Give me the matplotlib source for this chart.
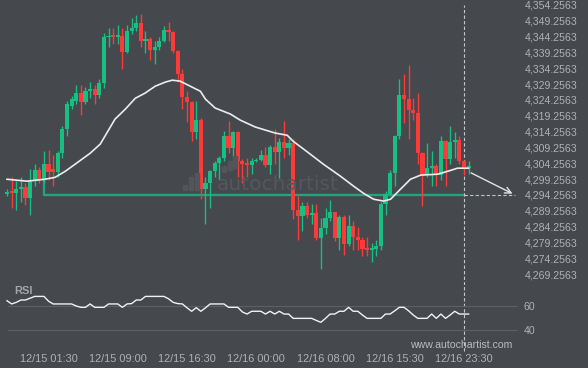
import matplotlib
matplotlib.use("Agg")
import matplotlib.pyplot as plt
from matplotlib.patches import Rectangle

# candles, 30 minute bars
opens = [4294.5, 4295.5, 4294.9, 4296.2, 4296.6, 4293.3, 4298.5, 4302.0, 4299.0, 4304.0,
         4302.5, 4301.5, 4307.5, 4315.0, 4322.5, 4324.0, 4326.5, 4323.5, 4327.0, 4327.8,
         4325.9, 4329.6, 4344.0, 4344.6, 4344.3, 4344.6, 4339.5, 4346.0, 4347.0, 4348.5,
         4343.0, 4343.5, 4340.0, 4341.0, 4343.0, 4346.5, 4345.8, 4339.7, 4332.5, 4325.1,
         4323.6, 4314.0, 4318.0, 4296.0, 4297.9, 4301.7, 4304.2, 4305.8, 4312.8, 4309.0,
         4314.0, 4304.9, 4304.2, 4303.6, 4304.9, 4305.3, 4306.9, 4303.6, 4309.5, 4307.7,
         4311.0, 4309.0, 4310.5, 4289.5, 4287.5, 4290.7, 4287.8, 4288.4, 4280.5, 4283.7,
         4287.0, 4288.9, 4280.5, 4287.3, 4278.6, 4284.3, 4280.9, 4279.9, 4277.3, 4276.9,
         4277.3, 4278.2, 4291.3, 4294.5, 4301.3, 4312.8, 4325.8, 4324.5, 4321.0, 4320.0,
         4307.4, 4300.7, 4302.6, 4303.5, 4300.7, 4311.2, 4305.5, 4311.0, 4311.5, 4305.0,
         4302.8]
highs = [4296.0, 4300.0, 4298.6, 4300.0, 4298.0, 4302.5, 4304.0, 4303.0, 4308.0, 4308.5,
         4307.0, 4308.0, 4316.0, 4324.0, 4325.5, 4329.0, 4329.0, 4328.5, 4330.0, 4329.0,
         4331.0, 4345.5, 4347.0, 4347.0, 4348.0, 4347.0, 4348.0, 4350.0, 4351.0, 4351.5,
         4346.0, 4344.0, 4343.0, 4344.0, 4347.5, 4349.0, 4346.0, 4340.0, 4334.0, 4327.0,
         4324.0, 4324.0, 4318.5, 4300.0, 4302.0, 4305.0, 4306.5, 4314.5, 4317.5, 4314.6,
         4314.5, 4305.5, 4306.0, 4306.0, 4306.0, 4308.5, 4309.5, 4310.0, 4315.0, 4312.3,
         4317.5, 4312.0, 4312.0, 4293.9, 4291.9, 4292.0, 4291.5, 4291.5, 4287.0, 4290.0,
         4292.5, 4289.0, 4288.0, 4288.0, 4288.0, 4286.0, 4284.0, 4281.0, 4281.0, 4279.0,
         4280.0, 4292.0, 4295.5, 4302.0, 4313.3, 4331.0, 4332.5, 4335.3, 4325.0, 4326.4,
         4307.8, 4310.8, 4308.0, 4304.0, 4313.0, 4311.5, 4316.0, 4314.0, 4313.0, 4305.2,
         4305.0]
lows = [4293.8, 4290.0, 4289.5, 4292.0, 4291.0, 4287.9, 4297.0, 4298.0, 4298.0, 4299.0,
        4297.0, 4300.0, 4306.0, 4313.0, 4321.5, 4323.0, 4319.5, 4323.0, 4325.0, 4323.0,
        4325.0, 4328.0, 4341.0, 4342.0, 4342.0, 4334.0, 4339.0, 4345.0, 4346.0, 4341.0,
        4339.0, 4337.0, 4335.5, 4340.0, 4342.5, 4343.0, 4339.0, 4330.0, 4321.5, 4317.3,
        4311.2, 4312.0, 4293.0, 4285.0, 4290.0, 4300.0, 4299.0, 4305.0, 4307.5, 4306.0,
        4300.0, 4298.0, 4300.0, 4301.0, 4304.5, 4305.0, 4303.0, 4301.0, 4304.0, 4299.5,
        4306.0, 4307.0, 4286.5, 4280.0, 4283.0, 4287.0, 4285.0, 4280.0, 4271.0, 4282.0,
        4286.0, 4279.6, 4277.0, 4275.4, 4278.0, 4277.0, 4277.0, 4275.0, 4275.0, 4273.0,
        4275.0, 4277.0, 4288.0, 4294.0, 4297.0, 4311.9, 4317.0, 4312.0, 4318.0, 4304.0,
        4290.6, 4300.0, 4297.0, 4297.0, 4299.0, 4297.0, 4304.0, 4306.0, 4304.0, 4300.7,
        4301.0]
closes = [4295.3, 4294.8, 4296.2, 4296.8, 4293.2, 4298.6, 4302.0, 4299.0, 4304.0, 4301.5,
          4301.5, 4307.5, 4315.0, 4323.0, 4324.5, 4326.5, 4323.5, 4327.0, 4327.8, 4325.9,
          4329.6, 4344.0, 4344.6, 4344.3, 4344.6, 4339.5, 4346.0, 4347.0, 4348.5, 4343.0,
          4343.5, 4340.0, 4341.0, 4343.0, 4346.5, 4345.8, 4339.7, 4332.5, 4325.1, 4323.6,
          4314.0, 4318.0, 4296.0, 4297.9, 4301.7, 4304.2, 4305.8, 4312.8, 4309.0, 4314.0,
          4304.9, 4304.0, 4303.6, 4304.9, 4305.3, 4306.9, 4303.6, 4309.5, 4307.7, 4311.0,
          4309.0, 4310.5, 4289.5, 4287.5, 4290.7, 4287.8, 4288.4, 4280.5, 4283.7, 4287.0,
          4288.9, 4280.5, 4287.3, 4278.6, 4284.3, 4280.9, 4279.9, 4277.3, 4276.9, 4277.3,
          4278.2, 4291.3, 4294.5, 4301.3, 4312.8, 4325.8, 4324.5, 4321.0, 4320.0, 4307.4,
          4300.7, 4302.6, 4303.5, 4300.7, 4311.2, 4305.5, 4311.0, 4311.5, 4305.0, 4302.8,
          4303.2]

# moving average line (bar position, price)
ma_x = [0, 4.3, 8.2, 10.4, 12.6, 14.8, 18.0, 20.2, 21.7, 23.4, 25.6, 27.8, 29.9, 32.1,
        34.3, 35.8, 37.5, 39.7, 41.9, 43.0, 45.1, 48.4, 50.5, 53.8, 58.1, 60.7, 62.0,
        65.1, 68.5, 72.2, 75.1, 77.2, 79.4, 81.6, 83.1, 85.2, 87.4, 89.6, 93.3, 96.1,
        97.6, 100.0]
ma_y = [4299.2, 4298.6, 4299.2, 4299.8, 4301.7, 4304.0, 4307.4, 4310.3, 4314.0, 4318.2,
        4321.3, 4324.8, 4326.4, 4328.6, 4329.9, 4330.5, 4330.2, 4328.6, 4327.0, 4324.5,
        4321.7, 4319.8, 4317.9, 4315.7, 4313.8, 4313.1, 4311.2, 4307.8, 4304.0, 4300.2,
        4297.0, 4294.8, 4292.9, 4292.3, 4292.9, 4296.0, 4299.2, 4300.5, 4300.8, 4302.0,
        4302.7, 4302.7]

rsi = [64.4, 61.7, 63, 65, 65, 66.5, 68, 68, 68, 64, 61.7, 61.7, 61.7, 61.7, 61.7, 60,
       58.9, 58.9, 61.7, 58.9, 58.9, 58.9, 61.7, 61.7, 61.7, 58.9, 61.7, 62, 65, 65, 68,
       68, 68, 68, 68, 66, 63, 62, 61.7, 58.5, 55.6, 58.6, 55.6, 58.5, 61.7, 61.7, 61.7,
       61.7, 58.9, 58.9, 58.9, 55, 53.3, 55.6, 55.6, 55.6, 53.3, 55.6, 53.3, 55.6, 53.3,
       53.3, 49.7, 49.7, 49.7, 49.7, 49.7, 48, 46.4, 49.7, 53.3, 53.3, 55.6, 55.6, 58.9,
       55.6, 55.6, 52.5, 49.7, 49.7, 49.7, 49.7, 53.3, 53.3, 56, 58.9, 58.9, 56, 52.5,
       49.7, 49.7, 49.7, 53.3, 49.7, 53.3, 49.7, 52.5, 55.6, 53.3, 53.3, 53.3]

support = 4294.2563
support_start = 8
support_top = 4302.8
now_bar = 99
target_bar = 110.05

time_pos = [9, 24, 39, 54, 69, 84, 99]
time_labels = ["12/15 01:30", "12/15 09:00", "12/15 16:30", "12/16 00:00",
               "12/16 08:00", "12/16 15:30", "12/16 23:30"]
price_ticks = [4354.2563 - 5 * k for k in range(18)]

bg = "#45484d"
green = "#17bf83"
red = "#fb3a3a"
txt = "#aeb1b6"
W, H = 588, 368

fig = plt.figure(figsize=(W / 100, H / 100), dpi=100)
fig.patch.set_facecolor(bg)

ax = fig.add_axes([0, 1 - 285 / H, 518 / W, 285 / H])
rax = fig.add_axes([0, 1 - 348 / H, 518 / W, 63 / H], sharex=ax)
for a in (ax, rax):
    a.set_facecolor(bg)
    for s in a.spines.values():
        s.set_visible(False)

step = 4.616
ax.set_xlim(-7 / step, (518 - 7) / step)
ax.set_ylim(4355.836 - 285 / 3.165, 4355.836)
rax.set_ylim(25, 77.5)

# watermark
fig.text(217 / W, 1 - 185 / H, "autochartist", fontsize=14.5, color="#54575c",
         va="center", ha="left", family="DejaVu Sans")
for bx, by, bh in [(183, 190, 5), (189, 190, 13), (195, 190, 17),
                   (222, 172, 6), (228, 170, 9), (233, 168, 12)]:
    fig.patches.append(Rectangle((bx / W, 1 - by / H), 4 / W, bh / H,
                                 transform=fig.transFigure, color="#52555a", zorder=0))

# candles
for i in range(len(opens)):
    o, h, l, c = opens[i], highs[i], lows[i], closes[i]
    col = green if c >= o else red
    ax.vlines(i, l, h, color=col, lw=1.0, zorder=3)
    body = max(abs(c - o), 0.45)
    ax.bar(i, body, bottom=min(o, c), width=0.9, color=col, lw=0, zorder=3)

ax.plot(ma_x, ma_y, color="#ececec", lw=1.2, zorder=4)

ax.plot([support_start, support_start, now_bar], [support_top, support, support],
        color="#27a37b", lw=1.7, zorder=2)
ax.hlines(support, now_bar, target_bar, colors="#c4c4c4", linestyles=(0, (3, 2)), lw=0.8)
ax.annotate("", xy=(target_bar, support), xytext=(ma_x[-1], 4301.6),
            arrowprops=dict(arrowstyle="->", color="#e4e4e4", lw=1.0, mutation_scale=11))

ax.axvline(now_bar, ymin=0, ymax=1 - 5 / 285, color="#c8c8c8", ls=(0, (3, 2)), lw=0.8)
rax.axvline(now_bar, ymin=-0.04, ymax=1, color="#c8c8c8", ls=(0, (3, 2)), lw=0.8,
            clip_on=False)

ax.yaxis.tick_right()
ax.set_yticks(price_ticks)
ax.set_yticklabels([f"{v:,.4f}" for v in price_ticks])
ax.tick_params(axis="y", length=0, pad=5, labelsize=7.6, labelcolor=txt)
ax.tick_params(axis="x", bottom=False, labelbottom=False)
for t in ax.get_yticklabels():
    t.set_family("Liberation Sans")

# RSI panel
rax.hlines([40, 60], 0, (518 - 7) / step, colors="#5c6065", lw=0.8)
rax.plot(range(len(rsi)), rsi, color="#f2f2f2", lw=1.0)
rax.yaxis.tick_right()
rax.set_yticks([40, 60])
rax.tick_params(axis="y", length=0, pad=4, labelsize=7.6, labelcolor=txt)
rax.set_xticks(time_pos)
rax.set_xticklabels(time_labels)
rax.tick_params(axis="x", length=0, pad=4, labelsize=7.9, labelcolor=txt)
for t in rax.get_yticklabels() + rax.get_xticklabels():
    t.set_family("Liberation Sans")

fig.text(14 / W, 1 - 291 / H, "RSI", fontsize=8, fontweight="bold", color="#a3a6ab",
         va="center", family="Liberation Sans")
fig.text(410 / W, 1 - 345 / H, "www.autochartist.com", fontsize=7.6, color="#b8bbbf",
         va="center", family="Liberation Sans")

fig.savefig("out.png", dpi=100, facecolor=bg)
